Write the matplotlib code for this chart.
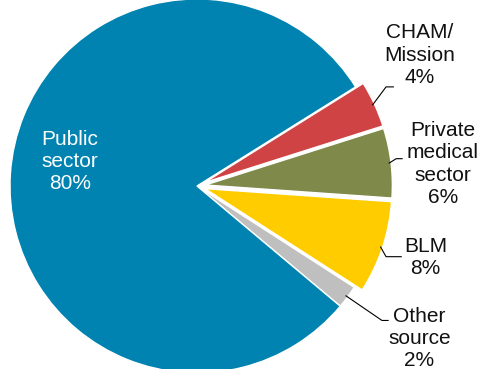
import numpy as np
import matplotlib.pyplot as plt

plt.rcParams['font.family'] = ['Liberation Sans', 'DejaVu Sans']

labels = ['CHAM/\nMission\n4%', 'Private\nmedical\nsector\n6%', 'BLM\n8%',
          'Other\nsource\n2%', 'Public\nsector\n80%']
shares = [4, 6, 8, 2, 80]
colors = ['#D04344', '#7F8949', '#FFCC00', '#BFBFBF', '#0083B0']
explode = [0.045, 0.045, 0.045, 0, 0]

# label layout (data units, pie radius = 1)
text_pos = [(1.193, 0.70), (1.314, 0.118), (1.222, -0.384), (1.189, -0.815)]
elbow_pos = [(1.011, 0.530), (1.065, 0.146), (1.011, -0.378), (0.989, -0.719)]
line_end = [(1.05, 0.530), (1.097, 0.146), (1.092, -0.378), (1.022, -0.719)]

fig = plt.figure(figsize=(4.79, 3.69), dpi=100)
ax = fig.add_axes([0, 0, 1, 1])

wedges, _ = ax.pie(shares, colors=colors, explode=explode, startangle=32,
                   counterclock=False, radius=1,
                   wedgeprops=dict(edgecolor='white', linewidth=1.0))

for i, w in enumerate(wedges[:4]):
    mid = np.deg2rad((w.theta1 + w.theta2) / 2)
    r = 1 + explode[i] - 0.01
    start = (r * np.cos(mid), r * np.sin(mid))
    ex, ey = elbow_pos[i]
    lx, ly = line_end[i]
    ax.plot([start[0], ex, lx], [start[1], ey, ly], color='black', linewidth=0.8)
    tx, ty = text_pos[i]
    ax.text(tx, ty, labels[i], ha='center', va='center', fontsize=15,
            linespacing=1.22, color='#111111')

ax.text(-0.68, 0.13, labels[4], ha='center', va='center', fontsize=15,
        linespacing=1.22, color='white')

s = 187
ax.set_xlim(-197 / s, (479 - 197) / s)
ax.set_ylim(-(369 - 186) / s, 186 / s)
ax.set_aspect('equal')
ax.axis('off')

fig.savefig('out.png', dpi=100)
